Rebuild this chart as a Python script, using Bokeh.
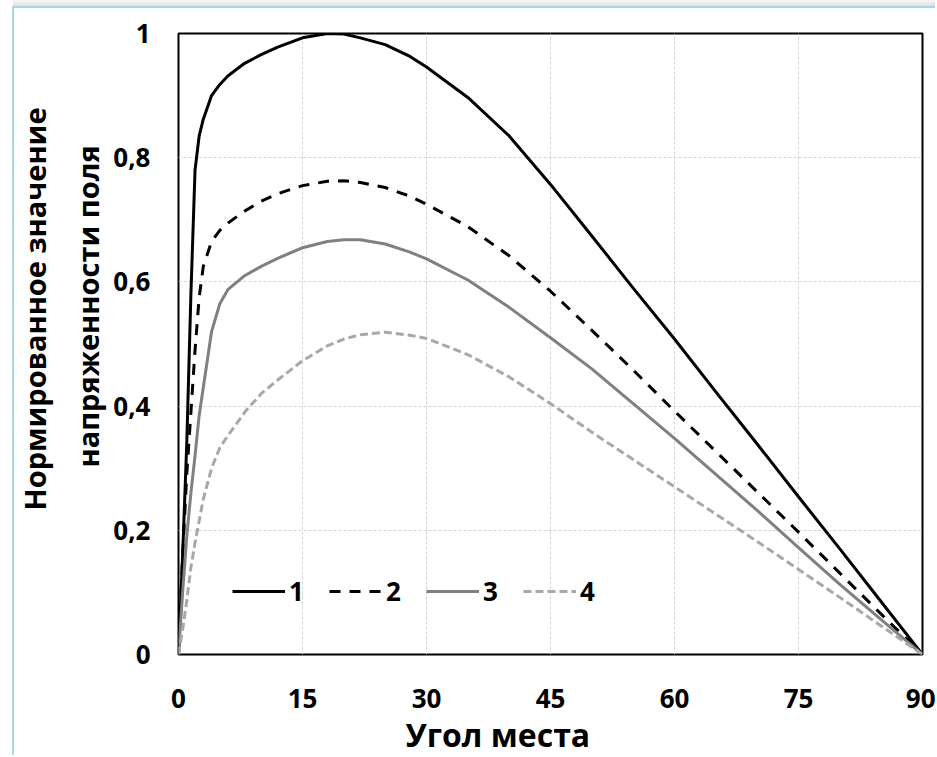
from bokeh.plotting import figure
from bokeh.models import (Legend, LegendItem, Title, FixedTicker,
                          CustomJSTickFormatter, InlineStyleSheet)
from bokeh.embed import file_html
from bokeh.resources import INLINE

# ---- data ----
angle = [0, 0.5, 1, 1.5, 2, 2.5, 3, 4, 5, 6, 8, 10, 12, 15, 18, 20, 22, 25, 28, 30,
         35, 40, 45, 50, 55, 60, 65, 70, 75, 80, 85, 90]
curve1 = [0, 0.16, 0.34, 0.58, 0.78, 0.835, 0.862, 0.90, 0.918, 0.932, 0.952, 0.966,
          0.978, 0.993, 1.0, 0.999, 0.993, 0.982, 0.963, 0.946, 0.897, 0.835, 0.757,
          0.674, 0.59, 0.508, 0.423, 0.339, 0.254, 0.17, 0.085, 0]
curve2 = [0, 0.16, 0.29, 0.39, 0.49, 0.575, 0.625, 0.665, 0.683, 0.695, 0.714, 0.73,
          0.742, 0.755, 0.762, 0.763, 0.76, 0.752, 0.738, 0.725, 0.689, 0.642, 0.585,
          0.522, 0.458, 0.392, 0.327, 0.262, 0.197, 0.131, 0.065, 0]
curve3 = [0, 0.1, 0.19, 0.26, 0.32, 0.385, 0.43, 0.52, 0.565, 0.588, 0.61, 0.625,
          0.638, 0.655, 0.665, 0.668, 0.668, 0.661, 0.648, 0.637, 0.603, 0.559, 0.51,
          0.46, 0.404, 0.348, 0.29, 0.232, 0.172, 0.113, 0.056, 0]
curve4 = [0, 0.04, 0.087, 0.14, 0.18, 0.215, 0.25, 0.30, 0.333, 0.353, 0.39, 0.42,
          0.442, 0.473, 0.497, 0.508, 0.515, 0.519, 0.514, 0.509, 0.483, 0.447, 0.404,
          0.358, 0.314, 0.27, 0.226, 0.182, 0.137, 0.092, 0.046, 0]
series_labels = ["1", "2", "3", "4"]

x_ticks = [0, 15, 30, 45, 60, 75, 90]
x_tick_labels = ["0", "15", "30", "45", "60", "75", "90"]
y_ticks = [0, 0.2, 0.4, 0.6, 0.8, 1.0]
y_tick_labels = ["0", "0,2", "0,4", "0,6", "0,8", "1"]

x_title = "Угол места"
y_title_1 = "Нормированное значение"
y_title_2 = "напряженности поля"

FONT = "Open Sans"

css = """
:host { position: relative; }
:host::before { content: ""; position: absolute; left: 12px; top: 6px; right: 0; bottom: 0;
  border-left: 2px solid #a8d6e8; border-top: 2px solid #a8d6e8;
  pointer-events: none; z-index: 5; }
:host::after { content: ""; position: absolute; left: 13px; top: 0; right: 0; height: 6px;
  background: linear-gradient(to bottom, #f7f7f7, #e0e0e0);
  pointer-events: none; z-index: 5; }
"""

p = figure(width=935, height=755, x_range=(0, 90), y_range=(0, 1),
           output_backend="svg", toolbar_location=None,
           min_border_left=178, min_border_right=13,
           min_border_top=33, min_border_bottom=98,
           stylesheets=[InlineStyleSheet(css=css)])
p.background_fill_color = "white"
p.border_fill_color = "white"
p.outline_line_color = "black"
p.outline_line_width = 2

fmt_code = "const i = t.findIndex(v => Math.abs(v - tick) < 1e-9); return i >= 0 ? l[i] : '';"
p.xaxis.ticker = FixedTicker(ticks=x_ticks)
p.xaxis.formatter = CustomJSTickFormatter(args=dict(t=x_ticks, l=x_tick_labels), code=fmt_code)
p.yaxis.ticker = FixedTicker(ticks=y_ticks)
p.yaxis.formatter = CustomJSTickFormatter(args=dict(t=y_ticks, l=y_tick_labels), code=fmt_code)

for ax in (p.xaxis[0], p.yaxis[0]):
    ax.axis_line_color = None
    ax.major_tick_line_color = None
    ax.minor_tick_line_color = None
    ax.major_tick_out = 0
    ax.major_tick_in = 0
    ax.major_label_text_font = FONT
    ax.major_label_text_font_style = "bold"
    ax.major_label_text_font_size = "26px"
    ax.major_label_text_color = "black"
p.xaxis.major_label_standoff = 34
p.yaxis.major_label_standoff = 28

for g in (p.xgrid[0], p.ygrid[0]):
    g.grid_line_color = "#d4d4d4"
    g.grid_line_dash = "3 2"
    g.grid_line_width = 1

r1 = p.line(angle, curve1, line_color="black", line_width=3, line_join="round")
r2 = p.line(angle, curve2, line_color="black", line_width=3, line_dash="11 9", line_join="round")
r3 = p.line(angle, curve3, line_color="#808080", line_width=3, line_join="round")
r4 = p.line(angle, curve4, line_color="#a8a8a8", line_width=3, line_dash="8 4", line_join="round")

legend = Legend(
    items=[LegendItem(label=lab, renderers=[r]) for lab, r in zip(series_labels, [r1, r2, r3, r4])],
    orientation="horizontal", location=(54, 45),
    glyph_width=53, glyph_height=20, label_standoff=4, spacing=25,
    padding=0, margin=0, label_width=15,
    border_line_color=None, background_fill_alpha=0,
    label_text_font=FONT, label_text_font_style="bold",
    label_text_font_size="26px", label_text_color="black")
p.add_layout(legend)

title_style = dict(text_font=FONT, text_font_style="bold", text_color="black")
p.add_layout(Title(text=x_title, align="left", offset=227, text_font_size="32px",
                   standoff=0, **title_style), "below")
p.add_layout(Title(text=y_title_2, align="left", offset=187, text_font_size="29px",
                   standoff=8, **title_style), "left")
p.add_layout(Title(text=y_title_1, align="left", offset=144, text_font_size="29px",
                   standoff=16, **title_style), "left")

open("out.html", "w").write(file_html(p, INLINE))
